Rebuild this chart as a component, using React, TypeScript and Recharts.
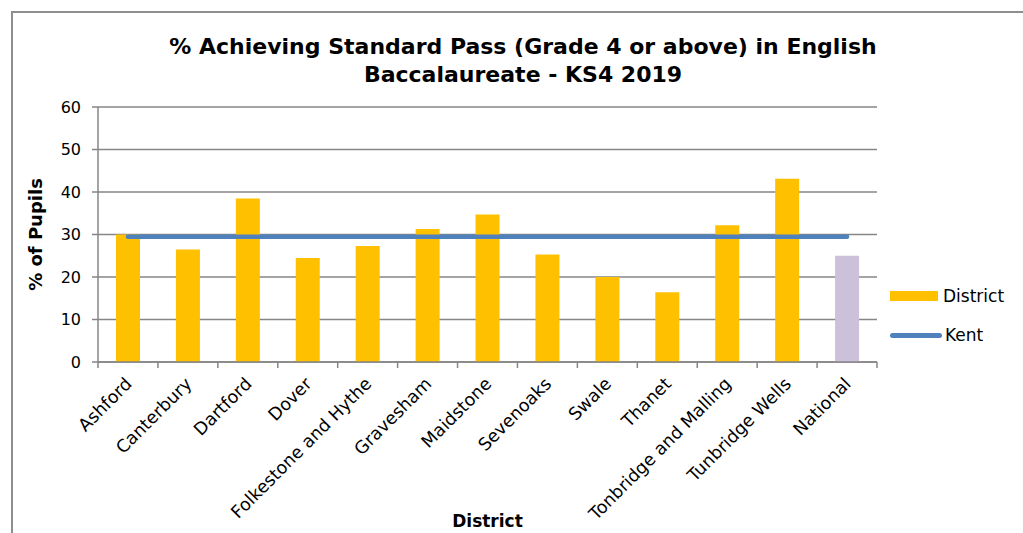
import { ComposedChart, Bar, Line, XAxis, YAxis, CartesianGrid, Cell } from "recharts";

const districts = [
  "Ashford",
  "Canterbury",
  "Dartford",
  "Dover",
  "Folkestone and Hythe",
  "Gravesham",
  "Maidstone",
  "Sevenoaks",
  "Swale",
  "Thanet",
  "Tonbridge and Malling",
  "Tunbridge Wells",
  "National",
];
const districtPct = [30.0, 26.5, 38.5, 24.5, 27.3, 31.3, 34.7, 25.3, 20.0, 16.4, 32.2, 43.1, 25.0];
const kentPct = [29.5, 29.5, 29.5, 29.5, 29.5, 29.5, 29.5, 29.5, 29.5, 29.5, 29.5, 29.5, 29.5];
const yTicks = [0, 10, 20, 30, 40, 50, 60];

const data = districts.map((name, i) => ({ name, district: districtPct[i], kent: kentPct[i] }));

const FONT = "'DejaVu Sans', Verdana, sans-serif";
const GOLD = "#FFC000";
const LILAC = "#CCC0DA";
const BLUE = "#4F81BD";
const GREY = "#868686";
const BAND = 779 / districts.length;

function XTick({ x, y, payload, index }: any) {
  const last = index === districts.length - 1;
  return (
    <g transform={`translate(${x},${y})`}>
      <line x1={-BAND / 2} y1={0} x2={-BAND / 2} y2={6} stroke={GREY} strokeWidth={1.5} />
      {last && <line x1={BAND / 2} y1={0} x2={BAND / 2} y2={6} stroke={GREY} strokeWidth={1.5} />}
      <text
        x={5}
        y={23}
        textAnchor="end"
        transform="rotate(-45, 5, 23)"
        fontFamily={FONT}
        fontSize={17.5}
        fill="#000"
      >
        {payload.value}
      </text>
    </g>
  );
}

// legend drawn beside the plot, like the Excel original
function LegendBox() {
  return (
    <div style={{ position: "absolute", left: 890, top: 283, fontFamily: FONT, fontSize: 17, color: "#000" }}>
      <div style={{ display: "flex", alignItems: "center", height: 26 }}>
        <span style={{ display: "inline-block", width: 48, height: 10, background: GOLD, marginRight: 5 }} />
        District
      </div>
      <div style={{ display: "flex", alignItems: "center", height: 26, marginTop: 13 }}>
        <span
          style={{ display: "inline-block", width: 52, height: 5, borderRadius: 3, background: BLUE, marginRight: 3 }}
        />
        Kent
      </div>
    </div>
  );
}

export default function App() {
  return (
    <div style={{ position: "absolute", left: 0, top: 0, width: 1023, height: 533, overflow: "hidden", background: "#fff" }}>
      <div
        style={{
          position: "absolute",
          left: 11,
          top: 11,
          width: 1100,
          height: 600,
          border: "2px solid #8e8e8e",
        }}
      />
      <div
        style={{
          position: "absolute",
          left: 12,
          width: 1022,
          top: 33,
          textAlign: "center",
          fontFamily: FONT,
          fontWeight: "bold",
          fontSize: 22,
          lineHeight: "28px",
          color: "#000",
        }}
      >
        % Achieving Standard Pass (Grade 4 or above) in English
        <br />
        Baccalaureate - KS4 2019
      </div>
      <div style={{ position: "absolute", left: 0, top: 0 }}>
        <ComposedChart width={1023} height={533} data={data} margin={{ top: 107, right: 146, bottom: 0, left: 0 }}>
          <CartesianGrid vertical={false} stroke={GREY} strokeWidth={1.5} />
          <XAxis
            dataKey="name"
            height={171}
            interval={0}
            tickLine={false}
            tickSize={0}
            tickMargin={0}
            axisLine={{ stroke: GREY, strokeWidth: 1.5 }}
            tick={<XTick />}
            label={{
              value: "District",
              position: "insideBottom",
              offset: 6,
              fontFamily: FONT,
              fontWeight: "bold",
              fontSize: 17,
              fill: "#000",
            }}
          />
          <YAxis
            width={98}
            domain={[0, 60]}
            ticks={yTicks}
            interval={0}
            tickSize={6}
            tickMargin={11}
            axisLine={{ stroke: GREY, strokeWidth: 1.5 }}
            tickLine={{ stroke: GREY, strokeWidth: 1.5 }}
            tick={{ fontFamily: FONT, fontSize: 16, fill: "#000" }}
            label={{
              value: "% of Pupils",
              angle: -90,
              position: "insideLeft",
              offset: 36,
              style: { textAnchor: "middle" },
              fontFamily: FONT,
              fontWeight: "bold",
              fontSize: 18,
              fill: "#000",
            }}
          />
          <Bar dataKey="district" name="District" barSize={24} isAnimationActive={false}>
            {data.map((d, i) => (
              <Cell key={i} fill={d.name === "National" ? LILAC : GOLD} />
            ))}
          </Bar>
          <Line
            dataKey="kent"
            name="Kent"
            stroke={BLUE}
            strokeWidth={4.5}
            strokeLinecap="round"
            dot={false}
            activeDot={false}
            isAnimationActive={false}
          />
        </ComposedChart>
      </div>
      <LegendBox />
    </div>
  );
}
